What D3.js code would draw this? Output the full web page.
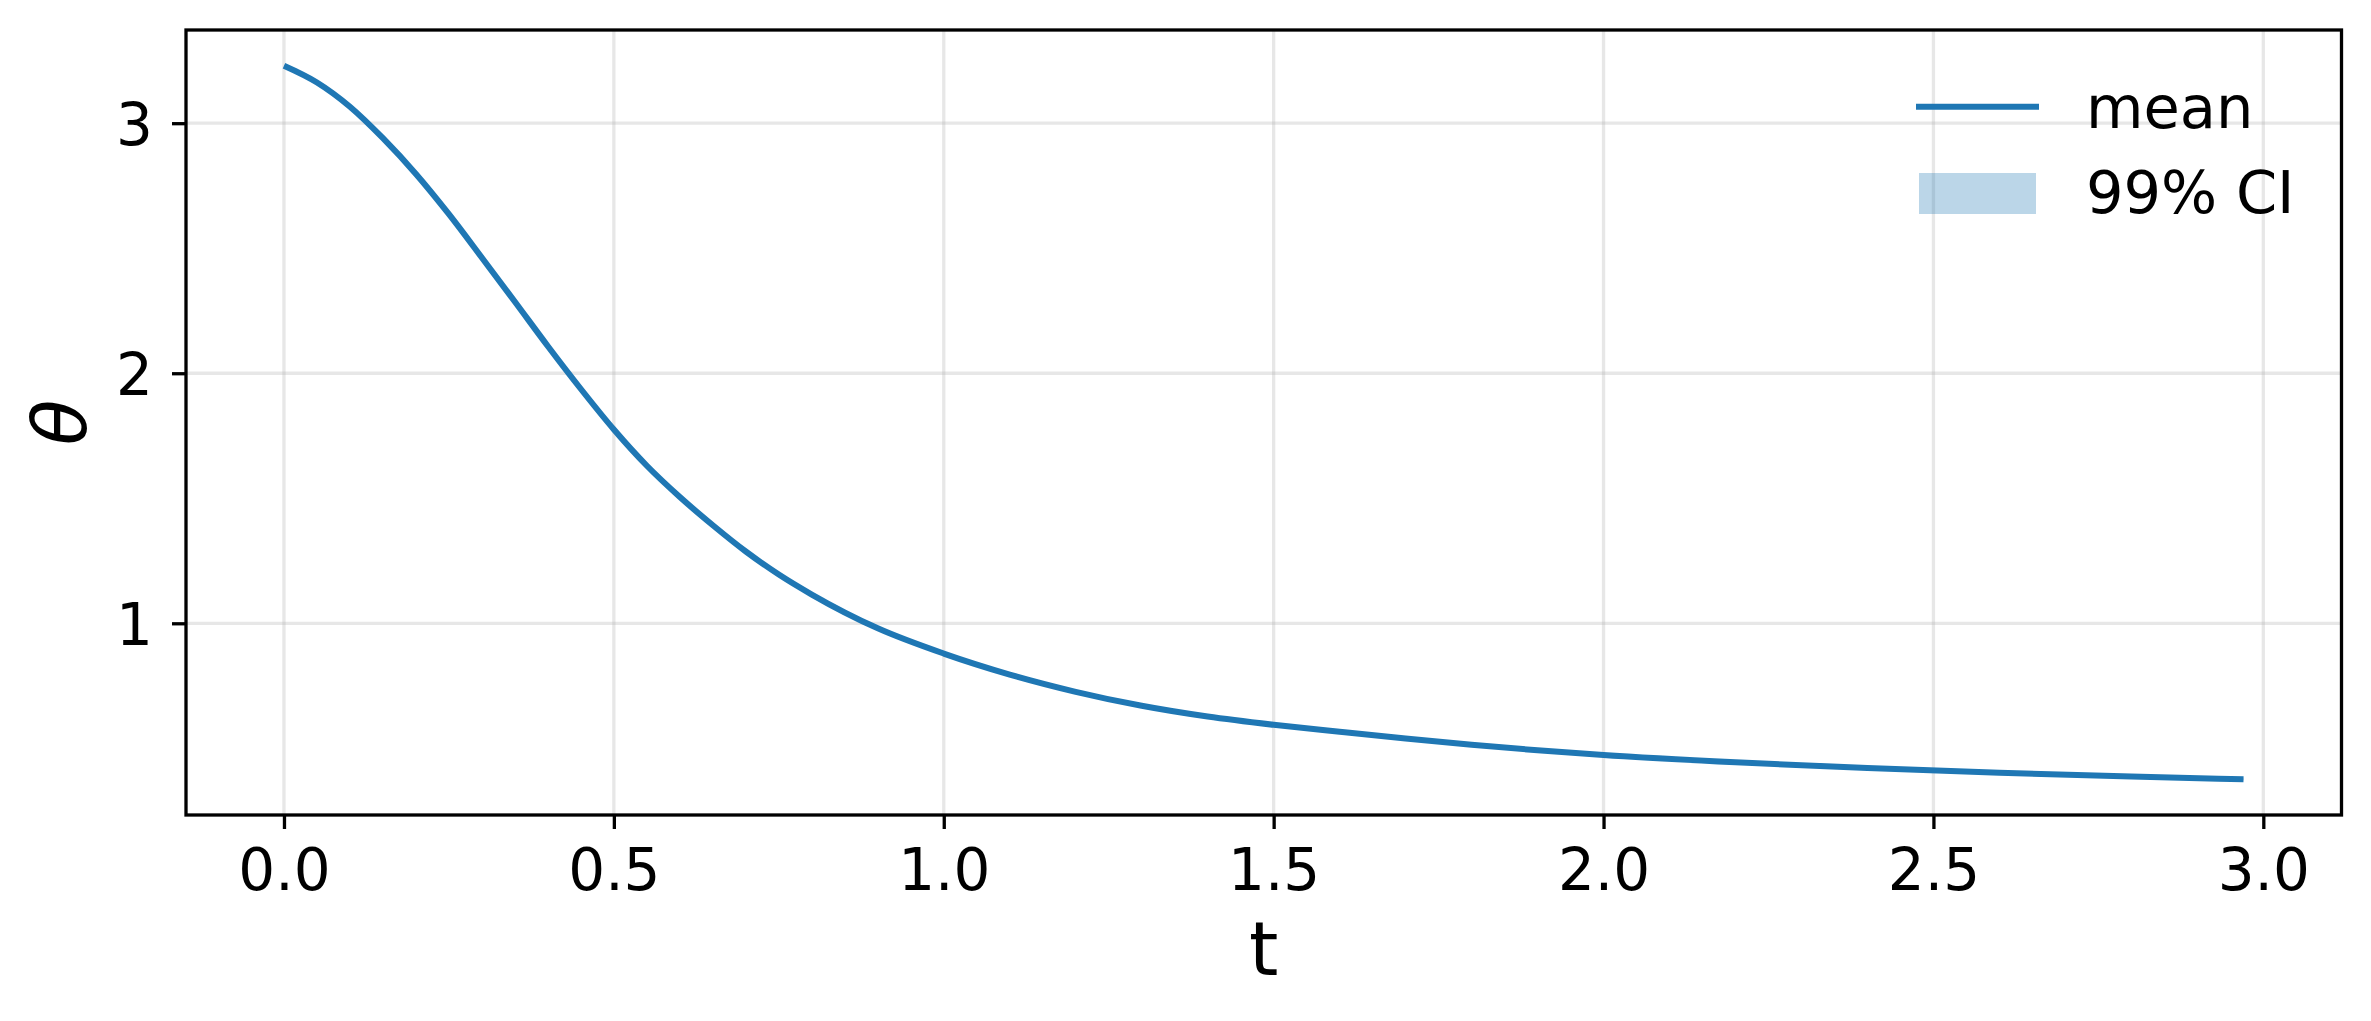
<!DOCTYPE html>
<html>
<head>
<meta charset="utf-8">
<script src="https://cdn.jsdelivr.net/npm/d3@7"></script>
<style>
  body { margin: 0; background: #fff; }
  svg { display: block; font-family: "DejaVu Sans", sans-serif; }
</style>
</head>
<body>
<svg id="chart" width="2371" height="1021"></svg>
<script>
// valeurs
const tValues = [0, 0.05, 0.1, 0.15, 0.2, 0.25, 0.3, 0.35, 0.4, 0.45, 0.5, 0.55, 0.6, 0.65, 0.7, 0.75,
    0.8, 0.9, 1.0, 1.1, 1.2, 1.3, 1.4, 1.5, 1.6, 1.7, 1.8, 1.9, 2.0, 2.2, 2.4, 2.6, 2.8, 2.97];
const thetaMean = [3.23, 3.163, 3.066, 2.940, 2.797, 2.636, 2.462, 2.286, 2.108, 1.937, 1.775, 1.630,
    1.505, 1.392, 1.287, 1.195, 1.115, 0.980, 0.879, 0.795, 0.726, 0.670, 0.627, 0.594, 0.566, 0.539,
    0.514, 0.492, 0.473, 0.444, 0.421, 0.402, 0.387, 0.376];
// intervalle de confiance : trop étroit pour être visible sous la courbe
const ciLower = [3.226, 3.159, 3.062, 2.936, 2.793, 2.632, 2.458, 2.282, 2.104, 1.933, 1.771, 1.626,
    1.501, 1.388, 1.283, 1.191, 1.111, 0.976, 0.875, 0.791, 0.722, 0.666, 0.623, 0.590, 0.562, 0.535,
    0.510, 0.488, 0.469, 0.440, 0.417, 0.398, 0.383, 0.372];
const ciUpper = [3.234, 3.167, 3.070, 2.944, 2.801, 2.640, 2.466, 2.290, 2.112, 1.941, 1.779, 1.634,
    1.509, 1.396, 1.291, 1.199, 1.119, 0.984, 0.883, 0.799, 0.730, 0.674, 0.631, 0.598, 0.570, 0.543,
    0.518, 0.496, 0.477, 0.448, 0.425, 0.406, 0.391, 0.380];
const xTicks = [0, 0.5, 1.0, 1.5, 2.0, 2.5, 3.0];
const yTicks = [1, 2, 3];
const legendLabels = ["mean", "99% CI"];

const blue = "#1f77b4";
const rect = { left: 186, top: 30, right: 2341.5, bottom: 815 };

const data = tValues.map((t, i) => ({ t: t, mean: thetaMean[i], lo: ciLower[i], hi: ciUpper[i] }));

// marges de 5% comme matplotlib
function padded(ext) {
    var m = (ext[1] - ext[0]) * 0.05;
    return [ext[0] - m, ext[1] + m];
}

const x = d3.scaleLinear()
    .domain(padded(d3.extent(tValues)))
    .range([rect.left, rect.right]);
const y = d3.scaleLinear()
    .domain(padded(d3.extent(thetaMean)))
    .range([rect.bottom, rect.top]);

const svg = d3.select("#chart");

// grille
const grid = svg.append("g");
grid.selectAll(".gx").data(xTicks).enter().append("line")
    .attr("x1", d => x(d)).attr("x2", d => x(d))
    .attr("y1", rect.top).attr("y2", rect.bottom)
    .style("stroke", "#b0b0b0").style("stroke-opacity", 0.3).style("stroke-width", 3.3);
grid.selectAll(".gy").data(yTicks).enter().append("line")
    .attr("x1", rect.left).attr("x2", rect.right)
    .attr("y1", d => y(d)).attr("y2", d => y(d))
    .style("stroke", "#b0b0b0").style("stroke-opacity", 0.3).style("stroke-width", 3.3);

// bande IC
svg.append("path")
    .datum(data)
    .attr("fill", blue).attr("fill-opacity", 0.3)
    .attr("d", d3.area().x(d => x(d.t)).y0(d => y(d.lo)).y1(d => y(d.hi)).curve(d3.curveMonotoneX));

// moyenne
svg.append("path")
    .datum(data)
    .attr("fill", "none").attr("stroke", blue).attr("stroke-width", 6)
    .attr("d", d3.line().x(d => x(d.t)).y(d => y(d.mean)).curve(d3.curveMonotoneX));

// axes
const xAxis = svg.append("g")
    .attr("transform", "translate(0," + rect.bottom + ")")
    .call(d3.axisBottom(x).tickValues(xTicks).tickFormat(d3.format(".1f")).tickSize(14).tickPadding(20));
const yAxis = svg.append("g")
    .attr("transform", "translate(" + rect.left + ",0)")
    .call(d3.axisLeft(y).tickValues(yTicks).tickFormat(d3.format("d")).tickSize(14).tickPadding(19));

[xAxis, yAxis].forEach(a => {
    a.select(".domain").remove();
    a.selectAll(".tick line").attr("stroke", "#000").attr("stroke-width", 3.3);
    a.selectAll(".tick text").attr("fill", "#000")
        .style("font-family", "DejaVu Sans").style("font-size", "58px");
});
yAxis.selectAll(".tick text").attr("dy", "0.37em");

// cadre
svg.append("rect")
    .attr("x", rect.left).attr("y", rect.top)
    .attr("width", rect.right - rect.left).attr("height", rect.bottom - rect.top)
    .attr("fill", "none").attr("stroke", "#000").attr("stroke-width", 3.3);

// titres des axes
svg.append("text")
    .attr("x", (rect.left + rect.right) / 2).attr("y", 975)
    .attr("text-anchor", "middle")
    .style("font-size", "75px")
    .text("t");
svg.append("text")
    .attr("transform", "translate(86," + (rect.top + rect.bottom) / 2 + ") rotate(-90)")
    .attr("text-anchor", "middle")
    .style("font-size", "75px").style("font-style", "italic")
    .text("θ");

// légende
const legend = svg.append("g");
legend.append("line")
    .attr("x1", 1916).attr("x2", 2039).attr("y1", 106.7).attr("y2", 106.7)
    .attr("stroke", blue).attr("stroke-width", 6);
legend.append("rect")
    .attr("x", 1919).attr("y", 173).attr("width", 117).attr("height", 41)
    .attr("fill", blue).attr("fill-opacity", 0.3);
legend.selectAll("text").data(legendLabels).enter().append("text")
    .attr("x", 2086).attr("y", (d, i) => 128 + i * 85)
    .style("font-size", "59px")
    .text(d => d);
</script>
</body>
</html>
